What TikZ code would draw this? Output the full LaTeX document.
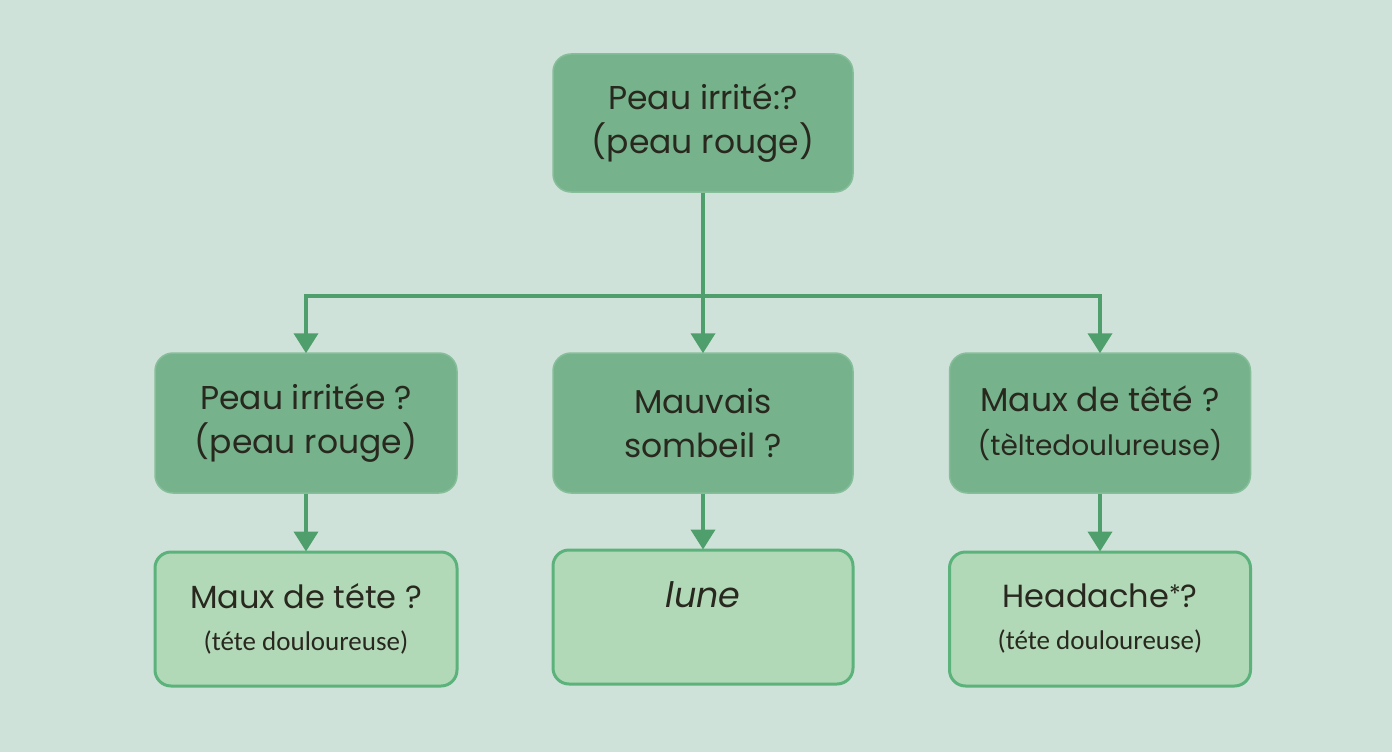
\documentclass[tikz,border=0pt]{standalone}
\usepackage{fontspec}
\setmainfont{Poppins}
\newfontfamily\smallfam{Carlito}
\usetikzlibrary{arrows.meta}
\definecolor{bgc}{HTML}{CFE2D9}
\definecolor{darkfill}{HTML}{76B38C}
\definecolor{darkedge}{HTML}{86BE9A}
\definecolor{lightfill}{HTML}{B2D9B7}
\definecolor{lightedge}{HTML}{5BB27A}
\definecolor{linec}{HTML}{4E9F6B}
\definecolor{txt}{HTML}{28281E}
\tikzset{
  darkbox/.style={draw=darkedge, line width=1.5pt, fill=darkfill, rounded corners=18pt,
    minimum width=300pt, minimum height=138pt, align=center, text=txt,
    font=\fontsize{33}{44}\selectfont, inner sep=0pt},
  lightbox/.style={draw=lightedge, line width=3pt, fill=lightfill, rounded corners=16pt,
    minimum width=300pt, minimum height=134pt, align=center, text=txt, inner sep=0pt,
    font=\fontsize{32}{42}\selectfont},
  conn/.style={draw=linec, line width=4pt},
  arr/.style={conn, -{Triangle[width=24pt,length=20pt]}, shorten >=-1pt},
}
\newcommand{\smalltext}[1]{{\smallfam\fontsize{27}{42}\selectfont #1}}
\begin{document}
\begin{tikzpicture}[x=1pt,y=-1pt]
\fill[bgc] (0,0) rectangle (1392,752);
\useasboundingbox (0,0) rectangle (1392,752);

\node[darkbox] (top) at (703,123) {Peau irrité:?\\(peau rouge)};
\node[darkbox, minimum width=302pt, minimum height=140pt] (m1) at (306,423) {Peau irritée ?\\(peau rouge)};
\node[darkbox, minimum width=300pt, minimum height=140pt] (m2) at (703,423) {Mauvais\\sombeil ?};
\node[darkbox, minimum width=301pt, minimum height=140pt] (m3) at (1100,423) {Maux de têté ?\\{\fontsize{28}{44}\selectfont(tèltedoulureuse)}};

\node[lightbox, minimum width=302pt] (b1) at (306,619)
  {Maux de téte ?\\\smalltext{(téte douloureuse)}};
\node[lightbox] (b2) at (703,617) {};
\node[text=txt, font=\fontsize{35}{40}\selectfont\itshape] (b2t) at (703,595) {lune};
\node[lightbox, minimum width=301pt] (b3) at (1100,619)
  {Headache\raisebox{5pt}{\fontsize{24}{24}\selectfont*}?\\\smalltext{(téte douloureuse)}};

\coordinate (j) at (703,296);
\draw[conn] (top.south) -- (j);
\draw[arr] (j) -| (m1.north);
\draw[arr] (j) -- (m2.north);
\draw[arr] (j) -| (m3.north);
\draw[arr] (m1.south) -- (b1.north);
\draw[arr] (m2.south) -- (b2.north);
\draw[arr] (m3.south) -- (b3.north);
\end{tikzpicture}
\end{document}
